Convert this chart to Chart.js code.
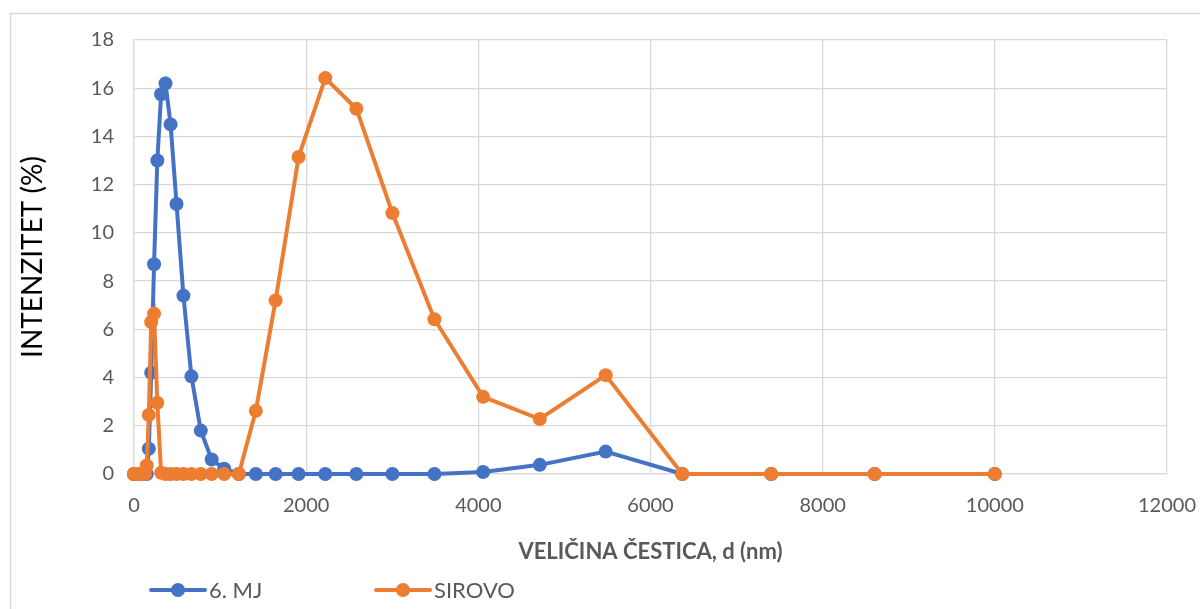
<!DOCTYPE html>
<html>
<head>
<meta charset="utf-8">
<script src="https://cdn.jsdelivr.net/npm/chart.js@4.4.1/dist/chart.umd.min.js"></script>
<style>
  html, body { margin: 0; padding: 0; background: #fff; }
  #wrap { width: 1200px; height: 609px; position: relative; }
</style>
</head>
<body>
<div id="wrap"><canvas id="dlsChart" width="1200" height="609"></canvas></div>
<script>
// particle size bins (nm)
const sizes = [0.4, 1, 3, 10, 25, 45, 60, 70, 81, 94, 110, 128, 148, 172, 200, 233, 271, 315, 366, 425,
  494, 574, 667, 776, 902, 1048, 1218, 1415, 1645, 1912, 2222, 2583, 3002, 3490, 4056, 4714, 5479,
  6369, 7402, 8604, 10000];

// intensity (%)
const sestiMj = [0, 0, 0, 0, 0, 0, 0, 0, 0, 0, 0, 0, 0, 1.05, 4.2, 8.7, 13.0, 15.75, 16.2, 14.5,
  11.2, 7.4, 4.05, 1.8, 0.6, 0.22, 0, 0, 0, 0, 0, 0, 0, 0, 0.08, 0.38, 0.93,
  0, 0, 0, 0];
const sirovo = [0, 0, 0, 0, 0, 0, 0, 0, 0, 0, 0, 0, 0.35, 2.45, 6.3, 6.65, 2.95, 0.05, 0, 0,
  0, 0, 0, 0, 0, 0, 0, 2.62, 7.2, 13.15, 16.42, 15.15, 10.82, 6.42, 3.2, 2.28, 4.1,
  0, 0, 0, 0];

const seriesNames = ['6. MJ', 'SIROVO'];
const xTicks = [0, 2000, 4000, 6000, 8000, 10000, 12000];
const yTicks = [0, 2, 4, 6, 8, 10, 12, 14, 16, 18];

const BLUE = '#4472C4';
const ORANGE = '#ED7D31';
const FONT = 'Lato, "Open Sans", sans-serif';

const toPoints = vals => sizes.map((s, i) => ({ x: s, y: vals[i] }));

// frame round the whole chart + custom legend at the bottom
const extras = {
    id: 'extras',
    beforeDraw(chart) {
        const ctx = chart.ctx;
        ctx.save();
        ctx.strokeStyle = '#d9d9d9';
        ctx.lineWidth = 1.5;
        ctx.strokeRect(10.5, 13.5, 1200, 620);
        ctx.restore();
    },
    afterDraw(chart) {
        const ctx = chart.ctx;
        const items = [
            { x: 151, color: BLUE, text: seriesNames[0] },
            { x: 376, color: ORANGE, text: seriesNames[1] }
        ];
        const y = 590;
        ctx.save();
        items.forEach(it => {
            ctx.strokeStyle = it.color;
            ctx.lineWidth = 4;
            ctx.lineCap = 'round';
            ctx.beginPath();
            ctx.moveTo(it.x, y);
            ctx.lineTo(it.x + 54, y);
            ctx.stroke();
            ctx.fillStyle = it.color;
            ctx.beginPath();
            ctx.arc(it.x + 27, y, 7, 0, Math.PI * 2);
            ctx.fill();
            ctx.fillStyle = '#595959';
            ctx.font = '22px ' + FONT;
            ctx.textBaseline = 'middle';
            ctx.textAlign = 'left';
            ctx.fillText(it.text, it.x + 58, y + 1);
        });
        ctx.restore();
    }
};

new Chart(document.getElementById('dlsChart'), {
    type: 'line',
    data: {
        datasets: [{
            label: seriesNames[0],
            data: toPoints(sestiMj),
            borderColor: BLUE,
            backgroundColor: BLUE,
            borderWidth: 4,
            pointRadius: 7,
            pointBorderWidth: 0,
            pointBackgroundColor: BLUE,
            tension: 0,
            clip: false,
            order: 1
        }, {
            label: seriesNames[1],
            data: toPoints(sirovo),
            borderColor: ORANGE,
            backgroundColor: ORANGE,
            borderWidth: 4,
            pointRadius: 7,
            pointBorderWidth: 0,
            pointBackgroundColor: ORANGE,
            tension: 0,
            clip: false,
            order: 0
        }]
    },
    options: {
        responsive: false,
        animation: false,
        layout: { padding: { left: 12, top: 40, right: 33, bottom: 0 } },
        plugins: { legend: { display: false }, tooltip: { enabled: false } },
        scales: {
            x: {
                type: 'linear',
                min: 0, max: 12000,
                afterBuildTicks: s => { s.ticks = xTicks.map(v => ({ value: v })); },
                afterFit: s => { s.height = 135; s.paddingRight = 0; s.paddingLeft = 0; },
                grid: { color: '#d9d9d9', lineWidth: 1.3, drawTicks: false },
                border: { color: '#d9d9d9', width: 1.3 },
                ticks: {
                    color: '#595959', font: { family: FONT, size: 20 }, padding: 20, maxRotation: 0,
                    callback: v => String(v)
                },
                title: {
                    display: true,
                    text: 'VELIČINA ČESTICA, d (nm)',
                    color: '#595959',
                    font: { family: FONT, size: 22, weight: 'bold' },
                    padding: { top: 0, bottom: 44 }
                }
            },
            y: {
                min: 0, max: 18,
                afterBuildTicks: s => { s.ticks = yTicks.map(v => ({ value: v })); },
                afterFit: s => { s.width = 122; s.paddingTop = 0; s.paddingBottom = 0; },
                grid: { color: '#d9d9d9', lineWidth: 1.3, drawTicks: false },
                border: { color: '#d9d9d9', width: 1.3 },
                ticks: { color: '#595959', font: { family: FONT, size: 20 }, padding: 20 },
                title: {
                    display: true,
                    text: 'INTENZITET (%)',
                    color: '#000',
                    font: { family: FONT, size: 28 },
                    padding: { top: 4, bottom: 0 }
                }
            }
        }
    },
    plugins: [extras]
});
</script>
</body>
</html>
